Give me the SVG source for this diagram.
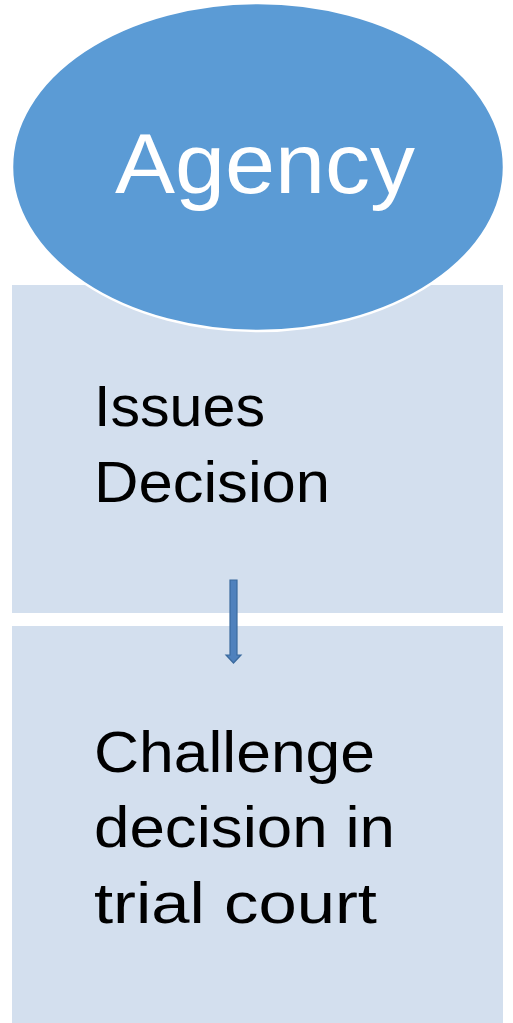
<svg xmlns="http://www.w3.org/2000/svg" width="513" height="1023" viewBox="0 0 513 1023">
<style>
.box{fill:#D3DFEE;}
.t{font-family:"Liberation Sans",Arial,sans-serif;fill:#000;font-size:57px;}
.big{font-family:"Liberation Sans",Arial,sans-serif;fill:#fff;font-size:85px;}
</style>
<rect width="513" height="1023" fill="#fff"/>
<g id="issues">
<rect class="box" x="12" y="285" width="491" height="328"/>
<text class="t" x="94" y="426" textLength="171" lengthAdjust="spacingAndGlyphs">Issues</text>
<text class="t" x="94" y="502" textLength="236" lengthAdjust="spacingAndGlyphs">Decision</text>
</g>
<g id="challenge">
<rect class="box" x="12" y="626" width="491" height="400"/>
<text class="t" x="94" y="772" textLength="281" lengthAdjust="spacingAndGlyphs">Challenge</text>
<text class="t" x="94" y="847" textLength="301" lengthAdjust="spacingAndGlyphs">decision in</text>
<text class="t" x="94" y="923" textLength="283" lengthAdjust="spacingAndGlyphs">trial court</text>
</g>
<g id="agency">
<ellipse cx="258" cy="167" rx="246" ry="164" fill="#5B9BD5" stroke="#fff" stroke-width="2.5"/>
<text class="big" x="115" y="193" textLength="300" lengthAdjust="spacingAndGlyphs">Agency</text>
</g>
<g id="connectors">
<path d="M230,580 H237 V655 H241 L233.5,663 L226,655 H230 Z" fill="#4F81BD" stroke="#3A6A9E" stroke-width="1.2"/>
</g>
</svg>
